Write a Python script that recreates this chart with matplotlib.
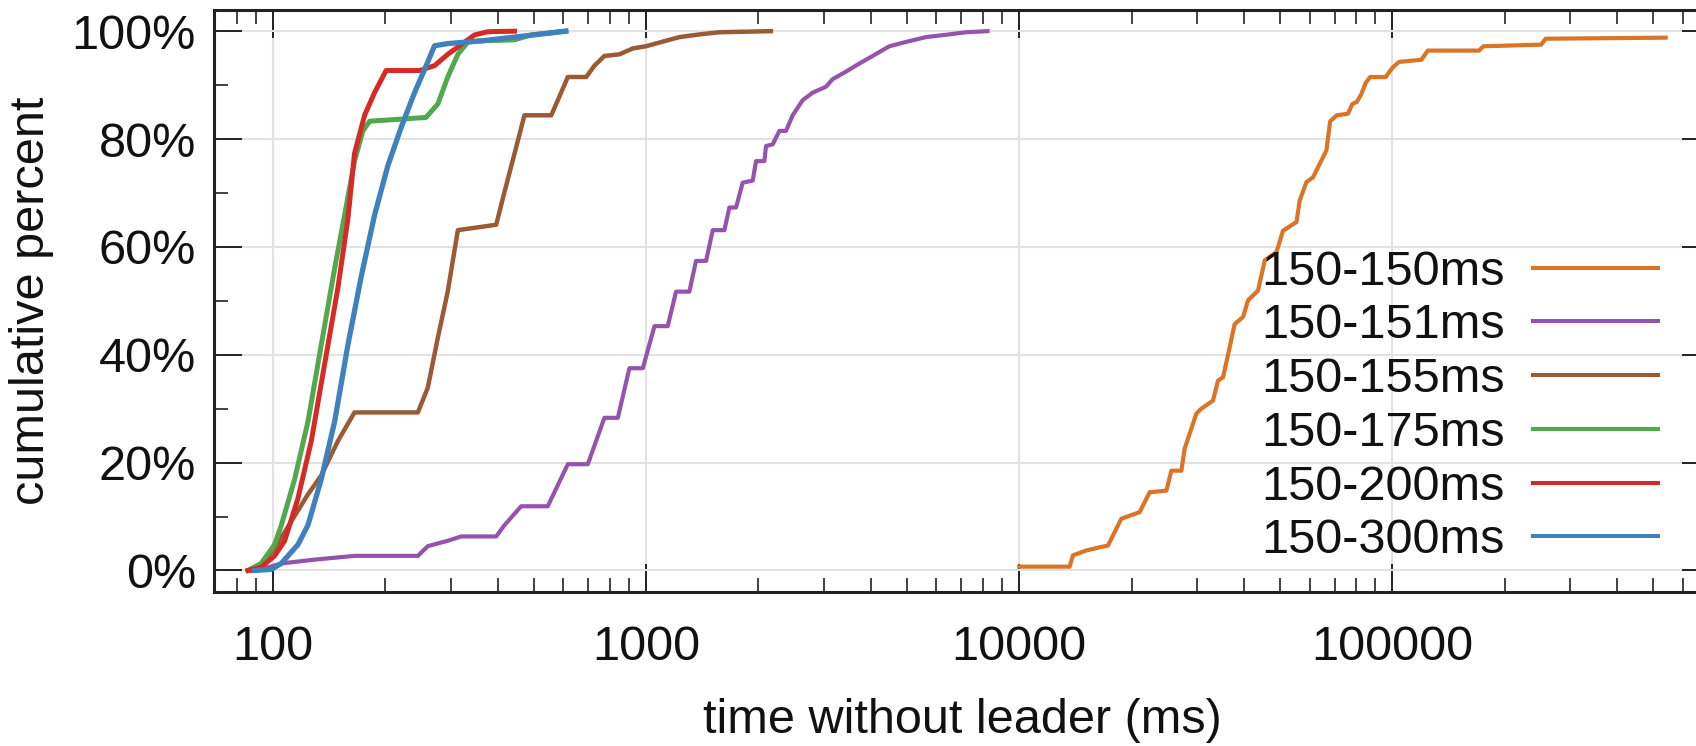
import matplotlib
matplotlib.use("Agg")
import matplotlib.pyplot as plt
from matplotlib.ticker import FixedLocator, LogLocator, NullFormatter, FuncFormatter

plt.rcParams['font.family'] = ['Liberation Sans', 'DejaVu Sans']

# ---- data ----
labels = ["150-150ms", "150-151ms", "150-155ms", "150-175ms", "150-200ms", "150-300ms"]
colors = ["#db7424", "#9653ae", "#9a5a33", "#52a84c", "#d62a26", "#3f80bd"]
widths = [3.0, 3.0, 3.2, 3.6, 3.6, 3.8]

x_150_150 = [10000, 13650, 13930, 15130, 16430, 17290, 18780, 21020, 22370, 24800, 25570, 27200,
             27760, 29840, 30780, 33060, 34100, 35170, 36650, 37800, 39800, 41050, 43650, 45500,
             48900, 50930, 55340, 56460, 58850, 61290, 63880, 66580, 68130, 70980,
             76030, 78140, 80320, 82540, 84830, 87190, 95960, 100000, 104200, 119600, 124500,
             170700, 175400, 250500, 257500, 540000]
y_150_150 = [0.7, 0.7, 2.8, 3.7, 4.3, 4.6, 9.6, 10.8, 14.5, 14.8, 18.5, 18.5,
             22.6, 29.1, 30.0, 31.5, 35.2, 35.8, 41.4, 45.7, 47.0, 50.1, 51.9, 57.5,
             59.0, 63.0, 64.6, 68.6, 72.0, 72.9, 75.4, 77.9, 83.3, 84.4,
             84.7, 86.5, 86.9, 88.3, 90.4, 91.5, 91.5, 93.2, 94.3, 94.7, 96.4,
             96.4, 97.2, 97.5, 98.6, 98.8]

x_150_151 = [91.1, 105.3, 129.3, 165.4, 244.6, 260, 294, 319.5, 396.5, 417.4, 462.5, 545, 617,
             698, 773, 840, 902, 980, 1053, 1143, 1203, 1306, 1361, 1448, 1509, 1621, 1672,
             1742, 1815, 1931, 1971, 2075, 2096, 2184, 2276, 2371, 2471, 2628, 2796, 3034,
             3162, 3433, 3728, 4047, 4486, 4970, 5623, 6494, 7197, 8220]
y_150_151 = [0, 1.3, 2.0, 2.7, 2.7, 4.5, 5.5, 6.3, 6.3, 8.4, 11.9, 11.9, 19.7,
             19.7, 28.3, 28.3, 37.5, 37.5, 45.3, 45.3, 51.7, 51.7, 57.4, 57.4, 63.1, 63.1, 67.3,
             67.3, 71.9, 72.3, 75.9, 75.9, 78.7, 79.0, 81.5, 81.5, 84.4, 87.2, 88.6, 89.7,
             91.1, 92.5, 94.0, 95.4, 97.2, 98.0, 98.9, 99.4, 99.8, 100]

x_150_155 = [87.5, 93, 101, 112, 124.1, 134.7, 149.3, 165.4, 244.6, 260, 276.7, 294, 313,
             396.5, 417.4, 444, 472, 557, 580, 617, 691, 727, 773, 848, 921, 1000, 1086,
             1228, 1390, 1572, 2160]
y_150_155 = [0, 1.3, 4.1, 9.1, 14.1, 17.6, 24.0, 29.3, 29.3, 33.9, 43.2, 51.7, 63.1,
             64.1, 70.2, 77.3, 84.4, 84.4, 87.2, 91.5, 91.5, 93.6, 95.4, 95.7, 96.8, 97.2, 97.9,
             98.9, 99.4, 99.8, 100]

x_150_175 = [85.7, 93.0, 101, 105.3, 114.3, 124.1, 134.7, 146.3, 155.6, 165.4, 174.2, 181.5,
             257, 276.7, 294, 313, 333, 361, 444, 492, 604]
y_150_175 = [0, 1.3, 4.8, 8.4, 16.9, 27.6, 41.8, 56.0, 65.9, 75.9, 81.5, 83.3,
             84.0, 86.5, 91.5, 95.7, 98.0, 98.2, 98.4, 99.3, 100]

x_150_200 = [85.7, 93.0, 101, 107.5, 116.7, 126.7, 137.5, 149.3, 158.8, 165.4, 176, 187.2,
             201, 247, 271, 294, 319.5, 346.8, 376.7, 444]
y_150_200 = [0, 0.6, 2.7, 5.5, 13.4, 24.0, 38.2, 52.4, 65.2, 77.3, 84.4, 88.6,
             92.7, 92.7, 93.6, 95.7, 97.5, 99.3, 99.9, 100]

x_150_300 = [89.3, 99, 105.3, 116.7, 124.1, 134.7, 146.3, 158.8, 172.4, 187.2, 203.3, 220.7,
             239.6, 260, 271, 294, 361, 444, 545, 610]
y_150_300 = [0, 0.2, 1.3, 4.8, 8.4, 16.9, 27.6, 41.8, 54.5, 65.9, 75.1, 82.2,
             88.6, 94.3, 97.3, 97.7, 98.2, 98.9, 99.6, 100]

series_x = [x_150_150, x_150_151, x_150_155, x_150_175, x_150_200, x_150_300]
series_y = [y_150_150, y_150_151, y_150_155, y_150_175, y_150_200, y_150_300]

y_ticks = [0, 20, 40, 60, 80, 100]
x_ticks = [100, 1000, 10000, 100000]

# ---- figure ----
W, H = 1696, 746
FS = 35
fig = plt.figure(figsize=(W / 100, H / 100), dpi=100)
ax = fig.add_axes([214 / W, 1 - 592 / H, (1710 - 214) / W, (592 - 9.6) / H])

for xs, ys, c, lab, lw in zip(series_x, series_y, colors, labels, widths):
    ax.plot(xs, ys, color=c, lw=lw, label=lab, zorder=3)

ax.set_xscale('log')
ax.set_xlim(69.5, 7.1e5)
ax.set_ylim(-4, 104)

ax.xaxis.set_major_locator(FixedLocator(x_ticks))
ax.xaxis.set_major_formatter(FuncFormatter(lambda v, p: f"{int(round(v))}"))
ax.xaxis.set_minor_locator(LogLocator(base=10, subs=range(2, 10), numticks=20))
ax.xaxis.set_minor_formatter(NullFormatter())
ax.yaxis.set_major_locator(FixedLocator(y_ticks))
ax.yaxis.set_major_formatter(FuncFormatter(lambda v, p: f"{int(v)}%"))
ax.yaxis.set_minor_locator(FixedLocator([10, 30, 50, 70, 90]))

ax.tick_params(which='both', direction='in', top=True, right=True, colors='#222222')
ax.tick_params(which='major', length=20, width=1.4, labelsize=FS, labelcolor='#111111')
ax.tick_params(which='minor', length=10, width=1.2)
ax.tick_params(axis='y', which='major', pad=13)
ax.tick_params(axis='x', which='major', pad=24)

ax.grid(True, which='major', color='#e2e2e2', lw=1.5, zorder=0)
for s in ax.spines.values():
    s.set_color('#222222')
    s.set_linewidth(2.2)

ax.set_xlabel('time without leader (ms)', fontsize=FS, color='#111111', labelpad=20)
ax.set_ylabel('cumulative percent', fontsize=FS, color='#111111', labelpad=13)

leg = ax.legend(loc='center right', bbox_to_anchor=(1658 / W, 1 - 406.5 / H),
                bbox_transform=fig.transFigure, frameon=False, fontsize=FS,
                markerfirst=False, handlelength=2.57, handletextpad=0.58,
                labelspacing=0.18, borderpad=0, borderaxespad=0)
for t in leg.get_texts():
    t.set_color('#111111')
for h in leg.get_lines():
    h.set_linewidth(2.9)

fig.savefig('out.png', dpi=100)
